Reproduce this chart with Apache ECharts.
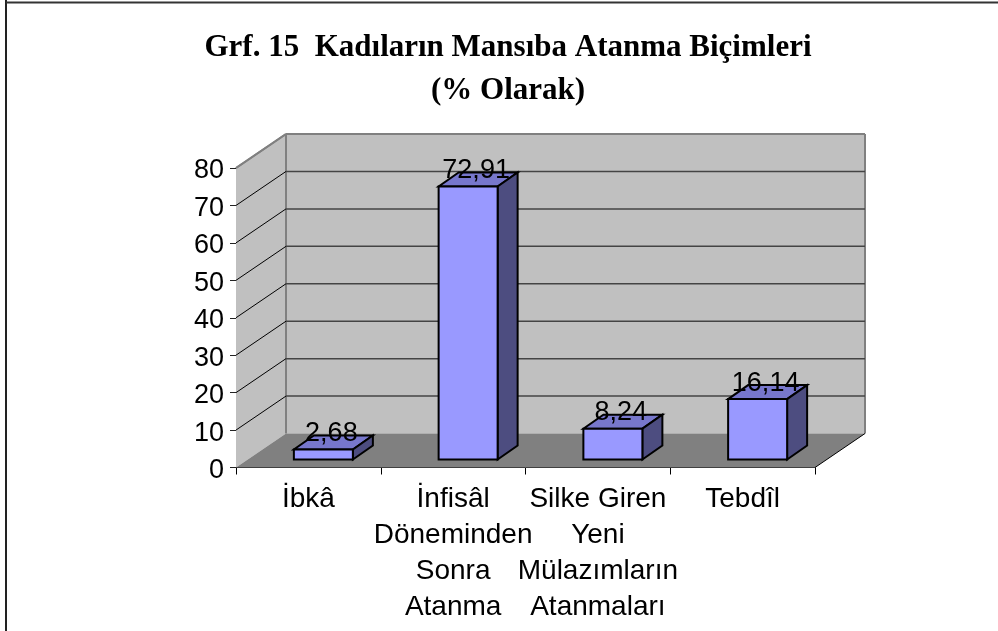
<!DOCTYPE html>
<html><head><meta charset="utf-8">
<style>html,body{margin:0;padding:0;background:#fff}#c{width:998px;height:631px}</style>
<script src="https://cdn.jsdelivr.net/npm/echarts@6/dist/echarts.min.js"></script>
</head><body><div id="c"></div>
<script>
const categories = ['İbkâ', 'İnfisâl\nDöneminden\nSonra\nAtanma', 'Silke Giren\nYeni\nMülazımların\nAtanmaları', 'Tebdîl'];
const values = [2.68, 72.91, 8.24, 16.14];
const valueLabels = ['2,68', '72,91', '8,24', '16,14'];
const yTicks = [0, 10, 20, 30, 40, 50, 60, 70, 80];
const titleLines = 'Grf. 15  Kadıların Mansıba Atanma Biçimleri\n(% Olarak)';

// oblique projection of the 3D box
const DEPTH_X = 50, DEPTH_Y = -34;
const BAR_SHIFT_X = 15, BAR_SHIFT_Y = -8, BAR_DEPTH_X = 20, BAR_DEPTH_Y = -14, BAR_WIDTH = 59;
const WALL = '#c0c0c0', FLOOR = '#808080', EDGE = '#808080';
const FRONT = '#9999ff', TOP = '#7777cc', SIDE = '#4d4d80';

const poly = (pts, fill, stroke, lw) => ({type:'polygon', shape:{points:pts}, style:{fill, stroke, lineWidth:lw||0}});
const line = (a, b, stroke, lw) => ({type:'line', shape:{x1:a[0],y1:a[1],x2:b[0],y2:b[1]}, style:{stroke, lineWidth:lw}});

function renderWalls(params, api){
  const c = params.coordSys, l=c.x, r=c.x+c.width, t=c.y, b=c.y+c.height;
  const d=[DEPTH_X,DEPTH_Y];
  return {type:'group', children:[
    poly([[l,b],[l+d[0],b+d[1]],[l+d[0],t+d[1]],[l,t]], WALL),
    poly([[l+d[0],b+d[1]],[r+d[0],b+d[1]],[r+d[0],t+d[1]],[l+d[0],t+d[1]]], WALL),
    poly([[l,b],[r,b],[r+d[0],b+d[1]],[l+d[0],b+d[1]]], FLOOR),
    line([l,t],[l+d[0],t+d[1]], EDGE, 2),
    line([l+d[0],t+d[1]],[r+d[0],t+d[1]], EDGE, 2),
    line([l+d[0],t+d[1]],[l+d[0],b+d[1]], EDGE, 2),
    line([r+d[0],t+d[1]],[r+d[0],b+d[1]], EDGE, 2),
    line([r,b],[r+d[0],b+d[1]], '#000', 1)
  ]};
}
function renderGrid(params, api){
  const c = params.coordSys;
  const v = api.value(0), y = api.coord([0, v])[1], l=c.x, r=c.x+c.width;
  if (v === 0) return {type:'group', children:[]};
  const kids = [line([l,y],[l+DEPTH_X,y+DEPTH_Y],'#000',1)];
  if (v < 80) kids.push(line([l+DEPTH_X,y+DEPTH_Y],[r+DEPTH_X,y+DEPTH_Y],'#444',1.5));
  else kids[0] = line([l,y],[l+DEPTH_X,y+DEPTH_Y],EDGE,2);
  return {type:'group', children:kids};
}
function renderBar(params, api){
  const i = api.value(0), v = api.value(1);
  const p0 = api.coord([i,0]), p1 = api.coord([i,v]);
  const L = p0[0]+BAR_SHIFT_X-BAR_WIDTH/2, R = L+BAR_WIDTH;
  const B = p0[1]+BAR_SHIFT_Y, T = p1[1]+BAR_SHIFT_Y, dx=BAR_DEPTH_X, dy=BAR_DEPTH_Y;
  return {type:'group', children:[
    poly([[L,T],[R,T],[R+dx,T+dy],[L+dx,T+dy]], TOP, '#000', 2),
    poly([[R,B],[R+dx,B+dy],[R+dx,T+dy],[R,T]], SIDE, '#000', 2),
    poly([[L,B],[R,B],[R,T],[L,T]], FRONT, '#000', 2),
    {type:'text', x:(L+R)/2+8, y:T-16, style:{text:valueLabels[params.dataIndex], fill:'#000',
      font:'27px "Liberation Sans"', align:'center', verticalAlign:'middle'}}
  ]};
}

const chart = echarts.init(document.getElementById('c'), null, {renderer:'canvas'});
chart.setOption({
  animation:false,
  backgroundColor:'#fff',
  title:{text:titleLines, left:503, top:21, textAlign:'center',
    textStyle:{fontFamily:'Liberation Serif', fontWeight:'bold', fontSize:31, lineHeight:43, color:'#000'}},
  grid:{left:236, top:168, width:579, height:299.5},
  xAxis:{type:'category', data:categories,
    axisLine:{show:true, lineStyle:{color:'#000', width:1}},
    axisTick:{show:true, length:7, alignWithLabel:false, lineStyle:{color:'#000'}},
    axisLabel:{interval:0, margin:14, color:'#000', fontFamily:'Liberation Sans', fontSize:28, lineHeight:36, hideOverlap:false},
    splitLine:{show:false}},
  yAxis:{type:'value', min:0, max:80, interval:10,
    axisLine:{show:true, lineStyle:{color:'#555', width:1}},
    axisTick:{show:true, length:6, lineStyle:{color:'#222'}},
    axisLabel:{margin:12, color:'#000', fontFamily:'Liberation Sans', fontSize:27, verticalAlign:'top', lineHeight:6},
    splitLine:{show:false}},
  graphic:[
    {type:'line', shape:{x1:6,y1:0,x2:6,y2:631}, style:{stroke:'#222', lineWidth:2}},
    {type:'line', shape:{x1:6,y1:2.5,x2:998,y2:2.5}, style:{stroke:'#333', lineWidth:2}}
  ],
  series:[
    {type:'custom', z:1, silent:true, renderItem:renderWalls, data:[0]},
    {type:'custom', z:2, silent:true, renderItem:renderGrid, encode:{y:0}, data:yTicks.map(v=>[v])},
    {type:'custom', z:3, renderItem:renderBar, encode:{x:0,y:1}, data:values.map((v,i)=>[i,v])}
  ]
});
</script></body></html>
